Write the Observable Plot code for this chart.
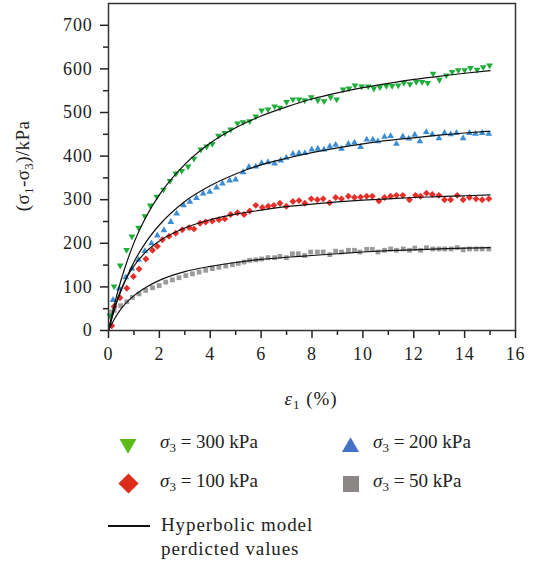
<!DOCTYPE html>
<html><head><meta charset="utf-8">
<script src="https://cdn.jsdelivr.net/npm/d3@7"></script>
<script src="https://cdn.jsdelivr.net/npm/@observablehq/plot@0.6"></script>
<style>
body{margin:0;background:#fff;}
#chart{width:537px;}
svg{display:block;}
</style></head><body><div id="chart"></div>
<script>
// σ3 = 300 kPa (measured)
const strain300 = [0.05,0.22,0.46,0.71,0.92,1.18,1.43,1.64,1.90,2.16,2.42,2.65,2.88,3.13,3.36,3.63,3.86,4.08,4.32,4.57,4.80,5.07,5.29,5.55,5.79,6.02,6.27,6.53,6.74,7.00,7.25,7.49,7.71,7.97,8.23,8.48,8.73,8.97,9.22,9.45,9.69,9.95,10.21,10.43,10.67,10.92,11.15,11.39,11.61,11.85,12.10,12.33,12.55,12.76,13.01,13.28,13.51,13.75,14.00,14.23,14.49,14.73,14.98];
const dev300 = [34,101,149,185,216,236,262,287,307,323,343,360,366,376,394,415,422,428,447,453,461,475,478,480,491,505,507,514,511,524,530,530,528,535,528,526,535,530,553,555,562,560,560,555,558,561,561,562,568,565,570,570,568,589,575,585,593,597,597,602,598,604,608];
// σ3 = 200 kPa
const strain200 = [0.18,0.42,0.68,0.92,1.18,1.43,1.69,1.92,2.18,2.45,2.68,2.95,3.20,3.46,3.72,3.98,4.25,4.48,4.76,5.00,5.29,5.52,5.79,6.02,6.27,6.53,6.77,6.99,7.25,7.49,7.72,7.99,8.23,8.47,8.70,8.93,9.16,9.43,9.67,9.91,10.15,10.39,10.59,10.85,11.09,11.32,11.57,11.81,12.04,12.24,12.49,12.73,12.99,13.21,13.45,13.68,13.94,14.19,14.43,14.69,14.95];
const dev200 = [70,96,122,142,162,182,200,218,230,249,268,287,295,304,314,318,328,337,344,346,363,375,376,384,386,383,390,396,405,407,407,415,417,415,422,426,417,428,431,421,438,438,434,444,446,428,445,440,449,434,455,450,441,453,450,453,441,453,451,453,451];
// σ3 = 100 kPa
const strain100 = [0.13,0.22,0.45,0.72,0.98,1.20,1.47,1.73,1.92,2.12,2.38,2.64,2.90,3.17,3.36,3.60,3.82,4.08,4.34,4.57,4.80,5.07,5.33,5.55,5.79,6.05,6.28,6.50,6.74,6.99,7.25,7.49,7.72,7.97,8.21,8.44,8.69,8.93,9.16,9.43,9.67,9.91,10.15,10.37,10.63,10.85,11.09,11.32,11.57,11.83,12.07,12.27,12.50,12.73,12.99,13.21,13.45,13.71,13.94,14.19,14.45,14.69,14.95];
const dev100 = [11,55,75,97,124,141,164,184,193,208,216,223,231,236,233,246,249,251,254,256,266,270,266,274,287,282,285,287,292,285,296,298,292,302,300,302,293,305,302,308,305,306,308,308,297,305,308,310,310,300,310,308,315,312,310,300,300,310,300,305,302,300,302];
// σ3 = 50 kPa
const strain50 = [0.13,0.22,0.48,0.72,0.94,1.20,1.46,1.73,1.99,2.25,2.51,2.77,3.04,3.30,3.56,3.82,4.08,4.34,4.61,4.87,5.10,5.33,5.55,5.79,6.02,6.27,6.53,6.74,6.99,7.23,7.46,7.71,7.95,8.21,8.44,8.70,8.93,9.16,9.43,9.67,9.88,10.15,10.37,10.59,10.85,11.09,11.32,11.59,11.83,12.04,12.27,12.50,12.75,12.99,13.22,13.47,13.71,13.94,14.19,14.45,14.69,14.95];
const dev50 = [42,46,57,66,76,84,92,98,103,111,116,121,126,130,134,138,142,145,148,151,154,157,161,162,164,167,167,170,167,176,176,172,180,180,180,174,182,180,184,184,180,186,186,180,184,187,184,187,184,189,184,190,187,187,187,187,190,185,187,187,187,187];
// Hyperbolic model predicted values
const modelStrain = [0,0.25,0.5,1,1.5,2,3,4,5,6,7,8,9,10,11,12,13,14,15];
const model300 = [0,64,117,201,263,311,381,430,465,492,513,531,545,557,567,576,583,590,596];
const model200 = [0,51,92,157,205,242,296,332,359,380,395,408,419,428,436,442,448,453,457];
const model100 = [0,55,95,148,182,205,235,254,267,276,284,290,295,299,302,305,307,309,311];
const model50  = [0,28,50,80,100,115,135,147,156,163,168,172,176,180,183,185,187,189,190];

const xTicks = [0,2,4,6,8,10,12,14,16];
const xMinor = [1,3,5,7,9,11,13,15];
const yTicks = [0,100,200,300,400,500,600,700];
const yMinor = [50,150,250,350,450,550,650];

const C300 = "#20ae3a", C200 = "#3a8dd2", C100 = "#e5302a", C50 = "#9b9b9b";
const L300 = "#5cbd18", L200 = "#4472c4", L100 = "#dc2c1c", L50 = "#8a8685";

const pts = (xs, ys) => xs.map((x, i) => ({x, y: ys[i]}));
const triangleDown = {
  draw(ctx, size) {
    const y = Math.sqrt(size / (Math.sqrt(3) * 3));
    ctx.moveTo(0, y * 2);
    ctx.lineTo(-Math.sqrt(3) * y, -y);
    ctx.lineTo(Math.sqrt(3) * y, -y);
    ctx.closePath();
  }
};

const font = "Liberation Serif, Times New Roman, serif";
const modelLine = (ys) => Plot.line(pts(modelStrain, ys), {x: "x", y: "y", stroke: "#111", strokeWidth: 1.2, curve: "monotone-x"});

const plot = Plot.plot({
  width: 537, height: 415,
  marginLeft: 108, marginRight: 22, marginTop: 3, marginBottom: 85,
  style: {fontFamily: font, fontSize: "18px", color: "#222", background: "#fff", letterSpacing: "0.8px"},
  x: {domain: [0, 16]},
  y: {domain: [0, 750]},
  marks: [
    Plot.dot(pts(strain50, dev50), {x: "x", y: "y", symbol: "square", r: 2.7, fill: C50}),
    Plot.dot(pts(strain100, dev100), {x: "x", y: "y", symbol: "diamond2", r: 3.1, fill: C100}),
    Plot.dot(pts(strain200, dev200), {x: "x", y: "y", symbol: "triangle", r: 2.5, fill: C200}),
    Plot.dot(pts(strain300, dev300), {x: "x", y: "y", symbol: triangleDown, r: 2.5, fill: C300}),
    modelLine(model50), modelLine(model100), modelLine(model200), modelLine(model300),
    Plot.axisX({ticks: xTicks, tickSize: 8, tickPadding: 9, strokeWidth: 1.5, label: null}),
    Plot.axisX({ticks: xMinor, tickSize: 5, tickFormat: () => "", strokeWidth: 1.5, label: null}),
    Plot.axisY({ticks: yTicks, tickSize: 8, tickPadding: 8, strokeWidth: 1.5, label: null}),
    Plot.axisY({ticks: yMinor, tickSize: 5, tickFormat: () => "", strokeWidth: 1.5, label: null}),
    Plot.frame({stroke: "#333", strokeWidth: 1.5})
  ]
});
document.getElementById("chart").appendChild(plot);

// axis titles with subscripts
const svg = d3.select(plot);
const xl = svg.append("text").attr("x", 311).attr("y", 405).attr("text-anchor", "middle")
  .attr("font-family", font).attr("font-size", 19).attr("letter-spacing", "1px").attr("fill", "#222");
xl.append("tspan").attr("font-style", "italic").text("ε");
xl.append("tspan").attr("font-size", 13).attr("dy", 4).text("1");
xl.append("tspan").attr("dy", -4).text(" (%)");

const yl = svg.append("text").attr("transform", "translate(29,166) rotate(-90)").attr("text-anchor", "middle")
  .attr("font-family", font).attr("font-size", 19).attr("letter-spacing", "0.4px").attr("fill", "#222");
yl.append("tspan").text("(σ");
yl.append("tspan").attr("font-size", 13).attr("dy", 4).text("1");
yl.append("tspan").attr("dy", -4).text("-σ");
yl.append("tspan").attr("font-size", 13).attr("dy", 4).text("3");
yl.append("tspan").attr("dy", -4).text(")/kPa");

// legend below the plot
const leg = d3.select("#chart").append("svg").attr("width", 537).attr("height", 146)
  .attr("font-family", font).attr("font-size", 19).attr("fill", "#222");
const off = 415;
const legItems = [
  {sym: triangleDown, color: L300, size: 125, cx: 128, cy: 444, tx: 160, ty: 448, p: "300"},
  {sym: d3.symbolTriangle, color: L200, size: 125, cx: 350.5, cy: 447, tx: 373, ty: 448, p: "200"},
  {sym: d3.symbolDiamond2, color: L100, size: 260, cx: 128.5, cy: 483.5, tx: 160, ty: 487, p: "100"},
  {sym: d3.symbolSquare, color: L50, size: 256, cx: 351, cy: 484, tx: 373, ty: 487, p: "50"}
];
for (const it of legItems) {
  leg.append("path").attr("d", d3.symbol(it.sym, it.size)()).attr("fill", it.color)
    .attr("transform", `translate(${it.cx},${it.cy - off})`);
  const t = leg.append("text").attr("x", it.tx).attr("y", it.ty - off);
  t.append("tspan").attr("font-style", "italic").text("σ");
  t.append("tspan").attr("font-size", 13).attr("dy", 4).text("3");
  t.append("tspan").attr("dy", -4).text(` = ${it.p} kPa`);
}
leg.append("line").attr("x1", 108).attr("x2", 150).attr("y1", 526 - off).attr("y2", 526 - off)
  .attr("stroke", "#111").attr("stroke-width", 2);
leg.append("text").attr("x", 161).attr("y", 531 - off).attr("letter-spacing", "0.9px").text("Hyperbolic model");
leg.append("text").attr("x", 161).attr("y", 555 - off).attr("letter-spacing", "0.9px").text("perdicted values");
</script></body></html>
